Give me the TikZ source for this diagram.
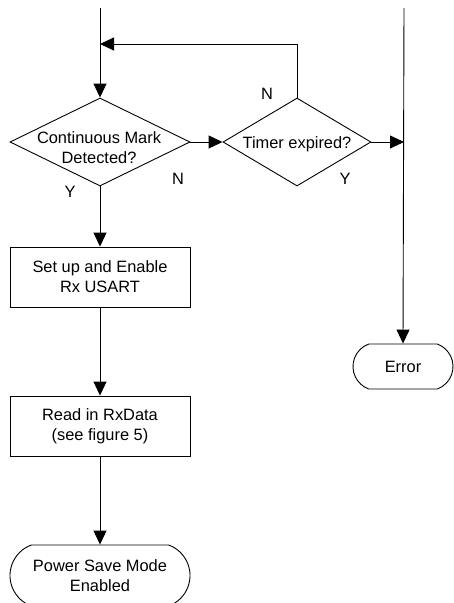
\documentclass[tikz,border=0pt]{standalone}
\usepackage{fontspec}
\setmainfont{Liberation Sans}
\usetikzlibrary{shapes.geometric,shapes.misc,arrows.meta}
\begin{document}
\begin{tikzpicture}[x=1pt,y=-1pt,
  every node/.style={font=\fontsize{16.4}{20}\selectfont, align=center, inner sep=0pt},
  line/.style={line width=0.9pt, draw=black},
  arr/.style={line, -{Triangle[length=14pt,width=13pt]}},
  dia/.style={shape=diamond, draw, line width=0.9pt, minimum width=180pt, minimum height=88pt},
  dia2/.style={shape=diamond, draw, line width=0.9pt, minimum width=148pt, minimum height=88pt},
  proc/.style={rectangle, draw, line width=0.9pt, minimum width=180pt, minimum height=60pt},
  term/.style={rounded rectangle, draw, line width=0.9pt, rounded rectangle arc length=140},
  lbl/.style={font=\fontsize{16.4}{20}\selectfont}
]
\useasboundingbox (0,0) rectangle (454,603);
\node[dia] (d1) at (100,142) {};
\node (d1t) at (99,148) {Continuous Mark\\Detected?};
\node[dia2] (d2) at (297,142) {};
\node (d2t) at (297,144) {Timer expired?};
\node[proc] (b1) at (100,277) {Set up and Enable\\Rx USART};
\node[proc] (b2) at (100,426) {Read in RxData\\(see figure 5)};
\node[term, minimum width=180pt, minimum height=61pt] (ps) at (100,575.5) {Power Save Mode\\Enabled};
\node[term, minimum width=100pt, minimum height=45pt] (err) at (403,366.5) {Error};

\coordinate (top1) at (100,8);
\coordinate (top2) at (404,8);
\coordinate (j1) at (100,44);
\coordinate (j2) at (404,142);

\draw[arr] (top1) -- (d1.north);
\draw[arr] (d2.north) |- (j1);
\draw[arr] (d1.east) -- (d2.west);
\draw[arr] (d2.east) -- (j2);
\draw[arr] (top2) -- (err.north);
\draw[arr] (d1.south) -- (b1.north);
\draw[arr] (b1.south) -- (b2.north);
\draw[arr] (b2.south) -- (ps.north);

\node[lbl] (n1) at (267,94) {N};
\node[lbl] (n2) at (178,179) {N};
\node[lbl] (y1) at (70,192) {Y};
\node[lbl] (y2) at (345,179) {Y};
\end{tikzpicture}
\end{document}
